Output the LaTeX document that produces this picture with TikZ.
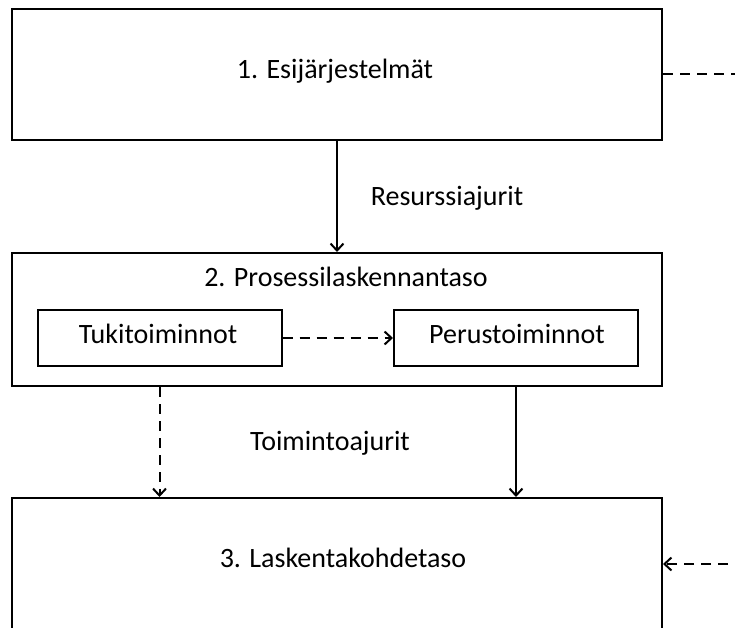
\documentclass[tikz,border=0pt]{standalone}
\usepackage{fontspec}
\setmainfont{Carlito}
\usetikzlibrary{arrows.meta}
\tikzset{
  >={Straight Barb[length=7pt,width=13pt]},
  box/.style ={draw, line width=2pt, rectangle, inner sep=0},
  big box/.style ={box, minimum width=650pt},
  small box/.style ={box, minimum width=244pt, minimum height=56pt},
  txt/.style ={font=\fontsize{28}{31}\selectfont, inner sep=0},
  link/.style ={draw, line width=2pt, ->},
  dashed link/.style ={link, dash pattern=on 10pt off 7pt},
}
\begin{document}
\begin{tikzpicture}[x=1pt,y=-1pt]
\clip (0,0) rectangle (735,628);
\node[big box, minimum height=131pt] (E) at (337,74.5) {};
\node[txt] (Et) at (335,71) {1. Esijärjestelmät};
\node[big box, minimum height=133pt] (P) at (337,319.5) {};
\node[txt] (Pt) at (346,277) {2. Prosessilaskennantaso};
\node[small box] (T) at (159.5,338) {};
\node[txt] (Tt) at (158,334) {Tukitoiminnot};
\node[small box] (B) at (516,338) {};
\node[txt] (Bt) at (517,334) {Perustoiminnot};
\node[big box, minimum height=160pt] (L) at (337,578) {};
\node[txt] (Lt) at (343,558) {3. Laskentakohdetaso};
\node[txt] (R) at (447,198) {Resurssiajurit};
\node[txt] (A) at (330,443) {Toimintoajurit};
\coordinate (o1) at (745,74.5);
\coordinate (o3) at (745,564);
% connectors
\path[link] (E) -- (P);
\path[dashed link] (T) -- (B);
\path[dashed link] (T |- P.south) -- (T |- L.north);
\path[link] (B |- P.south) -- (B |- L.north);
\path[dashed link,-] (E) -- (o1);
\path[dashed link] (o3) -- (o3 -| L.east);
\end{tikzpicture}
\end{document}
